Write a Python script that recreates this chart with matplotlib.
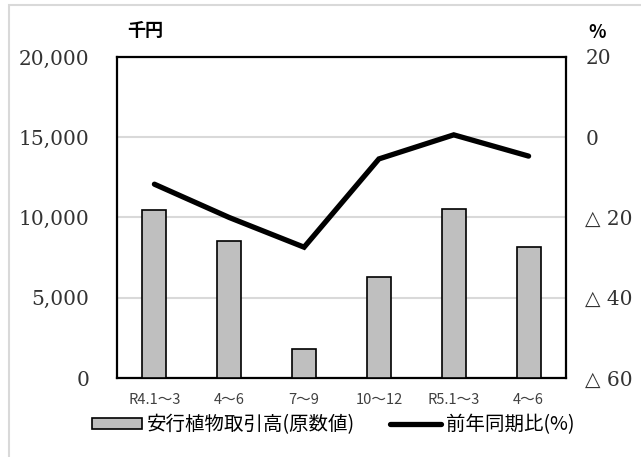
import matplotlib.pyplot as plt
from matplotlib.patches import Rectangle
from matplotlib.lines import Line2D

# data
quarters = ['R4.1～3', '4～6', '7～9', '10～12', 'R5.1～3', '4～6']
sales = [10450, 8550, 1800, 6300, 10500, 8150]      # 千円
yoy = [-11.7, -20.0, -27.4, -5.4, 0.6, -4.7]         # %

left_ticks = [0, 5000, 10000, 15000, 20000]
left_labels = ['0', '5,000', '10,000', '15,000', '20,000']
right_ticks = [-60, -40, -20, 0, 20]
right_labels = ['△ 60', '△ 40', '△ 20', '0', '20']

serif = ['DejaVu Serif', 'DejaVu Sans']
cjk = ['Noto Sans CJK JP', 'DejaVu Sans']

fig = plt.figure(figsize=(6.41, 4.57), dpi=100)
fig.patches.append(Rectangle((9 / 641, -0.1), 1.2, 1 - 5 / 457 + 0.1,
                             transform=fig.transFigure, fill=False,
                             edgecolor='#d9d9d9', linewidth=1.5))

ax = fig.add_axes([117 / 641, 1 - 378 / 457, 449 / 641, 321 / 457])
x = list(range(len(quarters)))
ax.bar(x, sales, width=0.32, color='#bfbfbf', edgecolor='black',
       linewidth=1.2, zorder=3)
ax.set_xlim(-0.5, len(quarters) - 0.5)
ax.set_ylim(0, 20000)
ax.set_yticks(left_ticks)
ax.set_yticklabels(left_labels, family=serif, fontsize=14.5, color='#333333')
ax.set_xticks(x)
ax.set_xticklabels(quarters, family=cjk, fontsize=10.5, color='#404040')
ax.tick_params(axis='y', length=0, pad=20)
ax.tick_params(axis='x', length=0, pad=11)
ax.grid(axis='y', color='#d9d9d9', linewidth=1.5, zorder=0)
for s in ax.spines.values():
    s.set_linewidth(1.6)
    s.set_color('black')

ax2 = ax.twinx()
ax2.plot(x, yoy, color='black', linewidth=3.8, solid_capstyle='round',
         solid_joinstyle='miter', zorder=4)
ax2.set_ylim(-60, 20)
ax2.set_yticks(right_ticks)
ax2.set_yticklabels(right_labels, family=serif, fontsize=14.5,
                    color='#333333')
ax2.tick_params(axis='y', length=0, pad=14)
for s in ax2.spines.values():
    s.set_visible(False)

fig.text(145 / 641, 1 - 30 / 457, '千円', family=cjk, fontsize=13,
         ha='center', va='center', fontweight='bold')
fig.text(597 / 641, 1 - 32 / 457, '%', family=cjk, fontsize=13,
         ha='center', va='center', fontweight='bold')

handles = [Rectangle((0, 0), 1, 1, facecolor='#bfbfbf', edgecolor='black',
                     linewidth=1.2),
           Line2D([0], [0], color='black', linewidth=3.8,
                  solid_capstyle='round')]
fig.legend(handles, ['安行植物取引高(原数値)', '前年同期比(%)'],
           loc='center', bbox_to_anchor=(333 / 641, 1 - 425 / 457), ncol=2,
           frameon=False, prop={'family': cjk, 'size': 14},
           handlelength=2.6, handleheight=0.5, handletextpad=0.25,
           columnspacing=1.8, borderpad=0)

fig.savefig('out.png', dpi=100, facecolor='white')
